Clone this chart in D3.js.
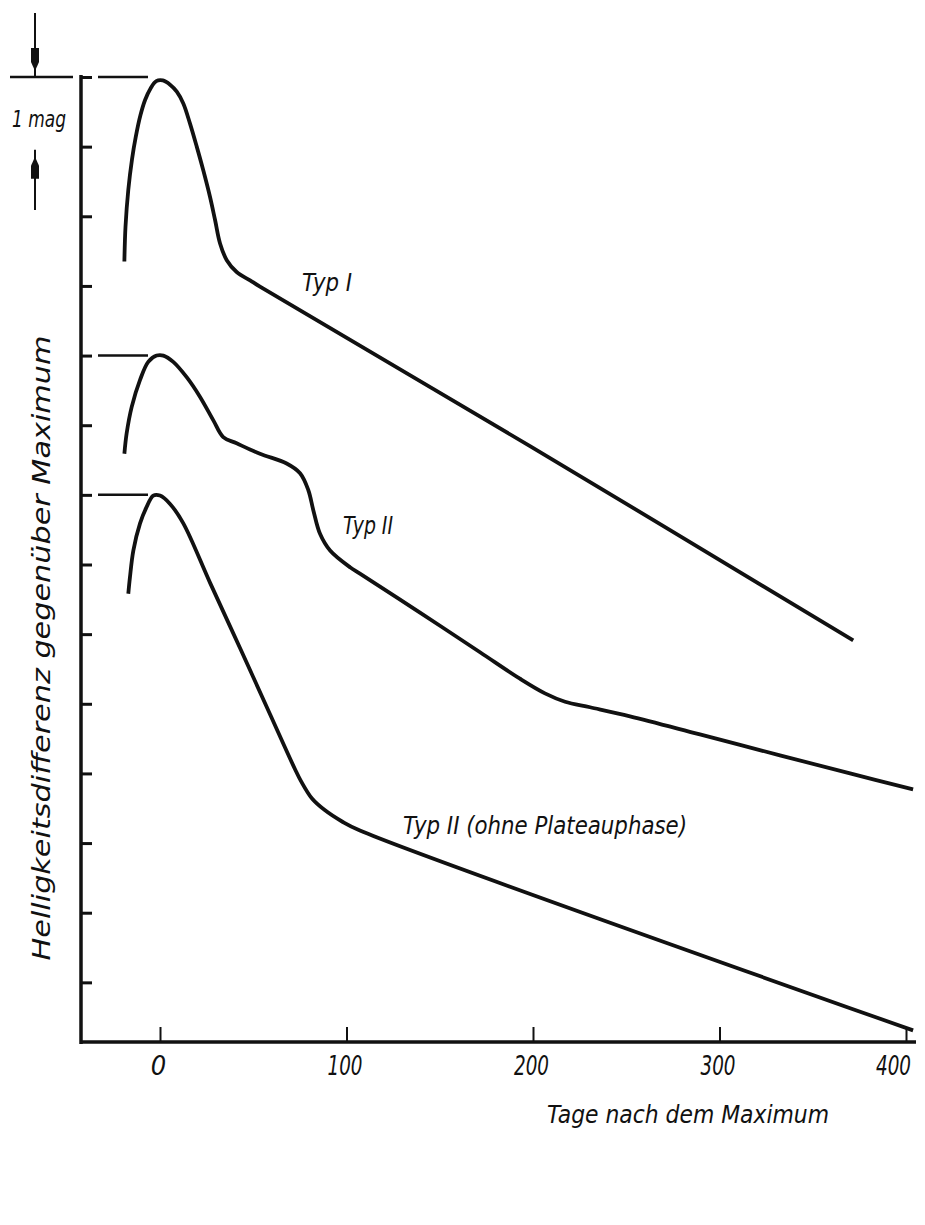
<!DOCTYPE html>
<html>
<head>
<meta charset="utf-8">
<script src="https://cdn.jsdelivr.net/npm/d3@7"></script>
<style>
  body { margin: 0; background: #fff; }
  text { font-family: "Liberation Sans Narrow", "DejaVu Sans Condensed", "Liberation Sans", sans-serif; font-style: italic; fill: #111; }
</style>
</head>
<body>
<svg id="chart" width="925" height="1225"></svg>
<script>
// Light curves of supernovae: brightness below maximum (mag) vs days after maximum

// Typ I
const typ1Days = [-19.1, -18.5, -17.0, -15.0, -13.0, -10.5, -8.0, -5.0, -2.0, 1.5, 5.4, 9.0, 12.5, 16.1, 19.7, 23.2, 26.8, 29.5, 32.2, 35.8, 41.1, 48.3, 53.6, 198.4, 371.7];
const typ1Mags = [2.65, 2.15, 1.62, 1.18, 0.86, 0.55, 0.33, 0.16, 0.06, 0.05, 0.11, 0.21, 0.38, 0.67, 1.00, 1.34, 1.72, 2.05, 2.39, 2.63, 2.80, 2.92, 3.01, 5.30, 8.09];

// Typ II (with plateau)
const typ2Days = [-19.1, -17.9, -15.2, -10.7, -6.3, -1.8, 1.8, 7.1, 14.3, 21.4, 28.6, 33.9, 41.1, 53.6, 67.9, 75.1, 79.5, 82.2, 85.8, 91.2, 101.9, 107.2, 139.4, 171.6, 193.0, 206.4, 217.2, 230.6, 252.0, 289.5, 332.4, 370.0, 403.8];
const typ2Mags = [1.41, 1.12, 0.74, 0.35, 0.09, 0.0, 0.0, 0.09, 0.31, 0.59, 0.93, 1.17, 1.26, 1.41, 1.55, 1.69, 1.93, 2.22, 2.56, 2.80, 3.04, 3.13, 3.69, 4.26, 4.64, 4.85, 4.97, 5.05, 5.18, 5.44, 5.74, 6.00, 6.23];

// Typ II without plateau phase
const typ2lDays = [-17.0, -16.1, -14.3, -10.7, -7.1, -3.6, 0.0, 5.4, 12.5, 26.8, 42.9, 59.0, 72.4, 75.6, 81.5, 88.5, 97.6, 107.2, 403.8];
const typ2lMags = [1.42, 1.18, 0.80, 0.41, 0.17, 0.01, 0.01, 0.13, 0.41, 1.26, 2.20, 3.15, 3.94, 4.11, 4.36, 4.53, 4.69, 4.82, 7.69];

// vertical shift of each curve on the common magnitude axis
const curveOffsets = [0, 4, 6];
const curveNames = ["Typ I", "Typ II", "Typ II (ohne Plateauphase)"];

const xTickValues = [0, 100, 200, 300, 400];
const magTickValues = d3.range(0, 14);

const xTitle = "Tage nach dem Maximum";
const yTitle = "Helligkeitsdifferenz gegenüber Maximum";
const scaleLabel = "1 mag";

const svg = d3.select("#chart");

const x = d3.scaleLinear().domain([0, 400]).range([160, 906]);
const y = d3.scaleLinear().domain([0, 14]).range([77, 1052]);

const axisLeftX = 81;
const axisBottomY = 1042;
const axisRightX = 916;

// y axis: spine and inward ticks, one per magnitude
svg.append("g")
  .attr("transform", `translate(${axisLeftX},0)`)
  .call(d3.axisLeft(y).tickValues(magTickValues).tickSize(-11).tickFormat(""))
  .call(g => g.select(".domain").remove())
  .call(g => g.selectAll(".tick line").attr("stroke", "#111").attr("stroke-width", 3));

svg.append("line")
  .attr("x1", axisLeftX).attr("x2", axisLeftX)
  .attr("y1", y(0) - 2).attr("y2", axisBottomY + 2)
  .attr("stroke", "#111").attr("stroke-width", 3.5);

// x axis: baseline, upward ticks, day labels
svg.append("g")
  .attr("transform", `translate(0,${axisBottomY})`)
  .call(d3.axisBottom(x).tickValues(xTickValues).tickSize(-15).tickPadding(14))
  .call(g => g.select(".domain").remove())
  .call(g => g.selectAll(".tick line").attr("stroke", "#111").attr("stroke-width", 2))
  .call(g => g.selectAll(".tick text")
    .attr("font-size", 27).attr("dy", "0.71em")
    .attr("dx", d => d === 400 ? -13 : -2)
    .style("font-style", "italic")
    .each(function (d) {
      if (d >= 100) d3.select(this).attr("textLength", 35).attr("lengthAdjust", "spacingAndGlyphs");
    }));

svg.append("line")
  .attr("x1", axisLeftX - 1).attr("x2", axisRightX)
  .attr("y1", axisBottomY).attr("y2", axisBottomY)
  .attr("stroke", "#111").attr("stroke-width", 3.5);

// axis titles
svg.append("text")
  .attr("x", 688).attr("y", 1123)
  .attr("text-anchor", "middle")
  .attr("font-size", 25)
  .attr("textLength", 282).attr("lengthAdjust", "spacingAndGlyphs")
  .text(xTitle);

svg.append("text")
  .attr("transform", `translate(50,648) rotate(-90)`)
  .attr("text-anchor", "middle")
  .attr("font-size", 25)
  .attr("textLength", 625).attr("lengthAdjust", "spacingAndGlyphs")
  .text(yTitle);

// reference lines marking the maximum of each curve
curveOffsets.forEach((off, i) => {
  const yy = y(off);
  if (i === 0) {
    svg.append("line").attr("x1", 10).attr("x2", 73).attr("y1", yy).attr("y2", yy)
      .attr("stroke", "#111").attr("stroke-width", 2.5);
  }
  svg.append("line").attr("x1", 98).attr("x2", 148).attr("y1", yy).attr("y2", yy)
    .attr("stroke", "#111").attr("stroke-width", 2.5);
});

// 1 mag scale marker with arrows
const arrowX = 35;
svg.append("line").attr("x1", arrowX).attr("x2", arrowX).attr("y1", 13).attr("y2", y(0))
  .attr("stroke", "#111").attr("stroke-width", 2);
svg.append("path")
  .attr("d", `M${arrowX - 4},48 L${arrowX + 4},48 L${arrowX + 4},62 L${arrowX},71 L${arrowX - 4},62 Z`)
  .attr("fill", "#111");
svg.append("line").attr("x1", arrowX).attr("x2", arrowX).attr("y1", y(1) + 3).attr("y2", 210)
  .attr("stroke", "#111").attr("stroke-width", 2);
svg.append("path")
  .attr("d", `M${arrowX},${y(1) + 10} L${arrowX + 4},${y(1) + 19} L${arrowX + 4},${y(1) + 32} L${arrowX - 4},${y(1) + 32} L${arrowX - 4},${y(1) + 19} Z`)
  .attr("fill", "#111");
svg.append("text")
  .attr("x", 12).attr("y", 127)
  .attr("font-size", 23)
  .attr("textLength", 54).attr("lengthAdjust", "spacingAndGlyphs")
  .text(scaleLabel);

// light curves
const curves = [
  { days: typ1Days, mags: typ1Mags },
  { days: typ2Days, mags: typ2Mags },
  { days: typ2lDays, mags: typ2lMags }
];

const line = d3.line()
  .x(d => x(d[0]))
  .y(d => y(d[1]))
  .curve(d3.curveCatmullRom.alpha(0.5));

curves.forEach((c, i) => {
  const pts = c.days.map((d, k) => [d, c.mags[k] + curveOffsets[i]]);
  svg.append("path")
    .datum(pts)
    .attr("d", line)
    .attr("fill", "none")
    .attr("stroke", "#111")
    .attr("stroke-width", 3.8)
    .attr("stroke-linejoin", "round");
});

// curve names
const labelPos = [
  { x: 302, y: 291, w: 50 },
  { x: 343, y: 534, w: 50 },
  { x: 403, y: 834, w: 284 }
];
curveNames.forEach((name, i) => {
  svg.append("text")
    .attr("x", labelPos[i].x).attr("y", labelPos[i].y)
    .attr("font-size", 24)
    .attr("textLength", labelPos[i].w).attr("lengthAdjust", "spacingAndGlyphs")
    .text(name);
});
</script>
</body>
</html>
